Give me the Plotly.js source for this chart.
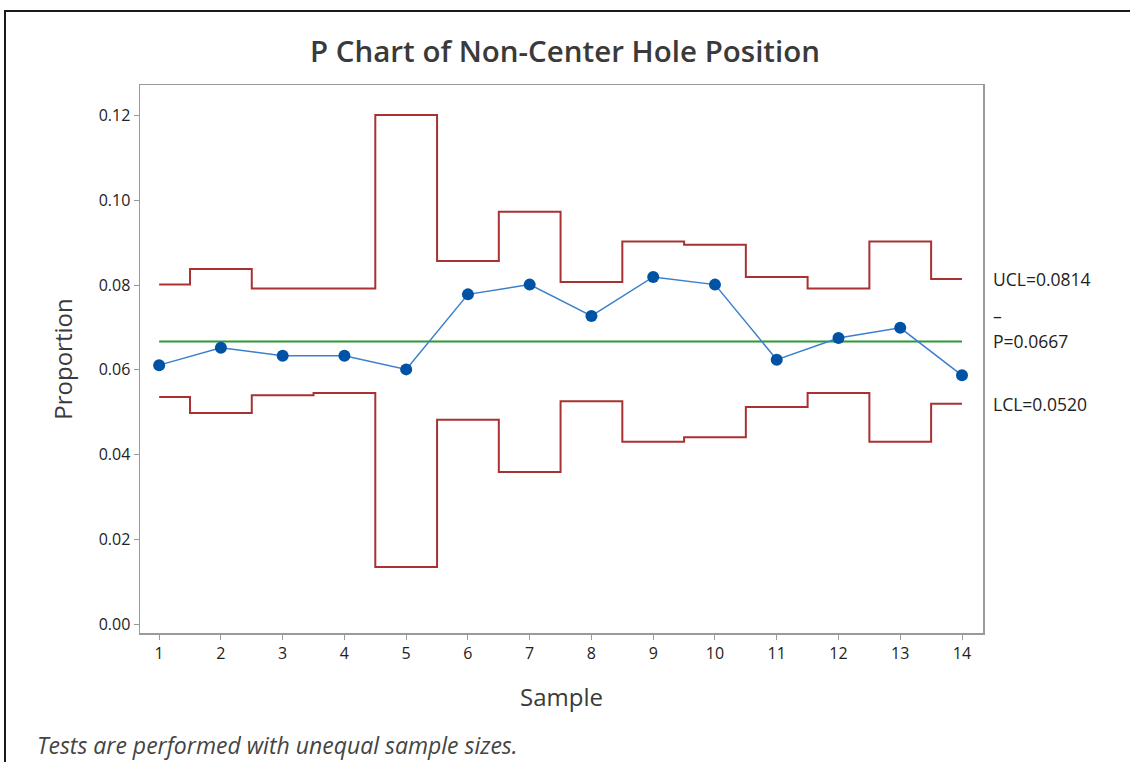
<!DOCTYPE html>
<html>
<head>
<meta charset="utf-8">
<script src="https://cdn.plot.ly/plotly-3.0.1.min.js"></script>
<style>
  html, body { margin: 0; padding: 0; background: #fff; }
  #wrap { position: relative; width: 1130px; height: 762px; overflow: hidden; }
  #chart { width: 1130px; height: 762px; }
  #frame { position: absolute; left: 4px; top: 10px; right: -10px; bottom: -10px;
           border-top: 2px solid #1a1a1a; border-left: 2px solid #1a1a1a; pointer-events: none; }
</style>
</head>
<body>
<div id="wrap">
  <div id="chart"></div>
  <div id="frame"></div>
</div>
<script>
const samples = [1, 2, 3, 4, 5, 6, 7, 8, 9, 10, 11, 12, 13, 14];
const proportion = [0.0611, 0.0652, 0.0633, 0.0633, 0.0601, 0.0778, 0.0801, 0.0727, 0.0819, 0.0801, 0.0624, 0.0675, 0.0699, 0.0587];
const ucl = [0.0801, 0.0838, 0.0792, 0.0792, 0.1201, 0.0857, 0.0973, 0.0807, 0.0903, 0.0895, 0.0819, 0.0792, 0.0903, 0.0814];
const lcl = [0.0536, 0.0498, 0.0540, 0.0545, 0.0135, 0.0482, 0.0359, 0.0526, 0.0430, 0.0441, 0.0512, 0.0545, 0.0430, 0.0520];
const pbar = 0.0667;
const yTicks = [0.00, 0.02, 0.04, 0.06, 0.08, 0.10, 0.12];
const labels = { ucl: "UCL=0.0814", center: "P=0.0667", lcl: "LCL=0.0520" };

const FONT = "Open Sans, Noto Sans, sans-serif";
const red = "#a83232";

const traces = [
  { x: samples, y: ucl, mode: "lines", line: { color: red, width: 2, shape: "hvh" }, hoverinfo: "skip" },
  { x: samples, y: lcl, mode: "lines", line: { color: red, width: 2, shape: "hvh" }, hoverinfo: "skip" },
  { x: samples, y: samples.map(() => pbar), mode: "lines", line: { color: "#2b9a35", width: 2 }, hoverinfo: "skip" },
  { x: samples, y: proportion, mode: "lines+markers",
    line: { color: "#3b7fcc", width: 1.5 },
    marker: { color: "#0052a5", size: 12, symbol: "circle" } }
];

const annFont = { family: FONT, size: 17.5, color: "#222" };
const layout = {
  width: 1130, height: 762,
  margin: { l: 140, r: 147, t: 85, b: 129 },
  paper_bgcolor: "#fff", plot_bgcolor: "#fff",
  showlegend: false,
  title: { text: "P Chart of Non-Center Hole Position", x: 0.5, xanchor: "center", y: 0.932, yanchor: "middle",
           font: { family: FONT, size: 29.5, weight: 600, color: "#3a3a3a" } },
  xaxis: {
    range: [0.69, 14.34], tickvals: samples, ticktext: samples.map(String),
    showgrid: false, zeroline: false, showline: true, mirror: true, linecolor: "#9a9a9a", linewidth: 1.5,
    ticks: "outside", ticklen: 5, tickcolor: "#9a9a9a",
    tickfont: { family: FONT, size: 16, color: "#222" },
    title: { text: "Sample", font: { family: FONT, size: 24, weight: 500, color: "#3a3a3a" }, standoff: 26 }
  },
  yaxis: {
    range: [-0.0021, 0.1272], tickvals: yTicks, tickformat: ".2f",
    showgrid: false, zeroline: false, showline: true, mirror: true, linecolor: "#9a9a9a", linewidth: 1.5,
    ticks: "outside", ticklen: 5, tickcolor: "#9a9a9a",
    tickfont: { family: FONT, size: 16, color: "#222" },
    title: { text: "Proportion", font: { family: FONT, size: 24, weight: 500, color: "#3a3a3a" }, standoff: 19 }
  },
  annotations: [
    { xref: "paper", yref: "y", x: 1, y: ucl[ucl.length - 1], xshift: 8, xanchor: "left", yanchor: "middle",
      showarrow: false, text: labels.ucl, font: annFont },
    { xref: "paper", yref: "y", x: 1, y: pbar, xshift: 8, yshift: 25, xanchor: "left", yanchor: "middle",
      showarrow: false, text: "–", font: annFont },
    { xref: "paper", yref: "y", x: 1, y: pbar, xshift: 8, xanchor: "left", yanchor: "middle",
      showarrow: false, text: labels.center, font: annFont },
    { xref: "paper", yref: "y", x: 1, y: lcl[lcl.length - 1], xshift: 8, xanchor: "left", yanchor: "middle",
      showarrow: false, text: labels.lcl, font: annFont },
    { xref: "paper", yref: "paper", x: -0.1246, y: -0.204, xanchor: "left", yanchor: "middle",
      showarrow: false, text: "<i>Tests are performed with unequal sample sizes.</i>",
      font: { family: FONT, size: 23, color: "#444" } }
  ]
};

Plotly.newPlot("chart", traces, layout, { displayModeBar: false, staticPlot: true });
</script>
</body>
</html>
